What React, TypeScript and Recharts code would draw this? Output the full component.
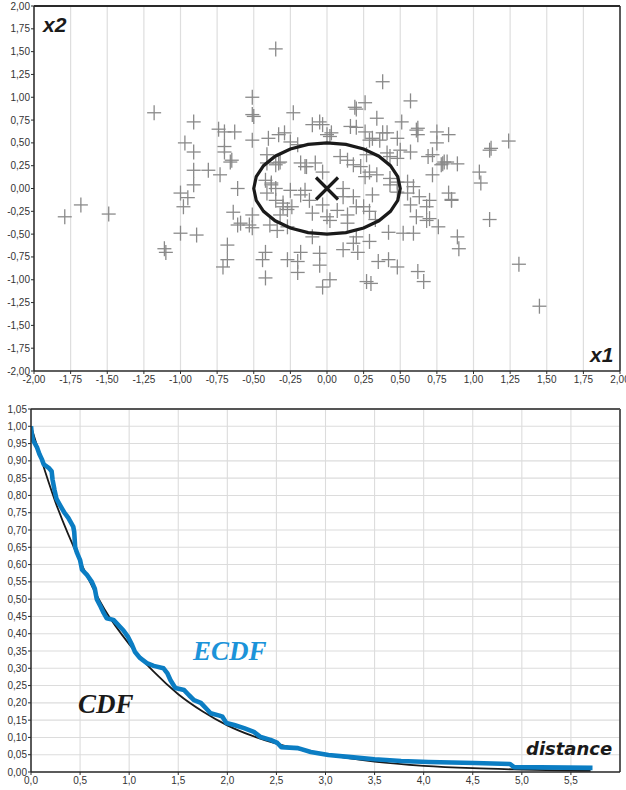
import { ScatterChart, Scatter, LineChart, Line, XAxis, YAxis, CartesianGrid, ReferenceLine } from 'recharts';

// tick values
const X1_TICKS = [-2, -1.75, -1.5, -1.25, -1, -0.75, -0.5, -0.25, 0, 0.25, 0.5, 0.75, 1, 1.25, 1.5, 1.75, 2];
const X2_TICKS = [-2, -1.75, -1.5, -1.25, -1, -0.75, -0.5, -0.25, 0, 0.25, 0.5, 0.75, 1, 1.25, 1.5, 1.75, 2];
const DIST_TICKS = [0, 0.5, 1, 1.5, 2, 2.5, 3, 3.5, 4, 4.5, 5, 5.5];
const PROB_TICKS = [0, 0.05, 0.1, 0.15, 0.2, 0.25, 0.3, 0.35, 0.4, 0.45, 0.5, 0.55, 0.6, 0.65, 0.7, 0.75, 0.8, 0.85, 0.9, 0.95, 1, 1.05];

// sample (x1, x2)
const SAMPLE: [number, number][] = [
  [-1.79, -0.31], [-1.68, -0.18], [-1.49, -0.28], [-1.18, 0.83], [-1.11, -0.66], [-1.1, -0.7], [-1.0, -0.49], [-0.89, -0.51], [-0.98, -0.2],
  [-0.35, 1.53], [0.38, 1.17], [0.57, 0.96], [1.45, -1.29], [1.31, -0.83], [1.11, -0.34], [1.24, 0.52], [1.11, 0.42], [1.12, 0.44],
  [1.04, 0.18], [1.05, 0.06], [0.89, -0.53], [0.9, -0.66], [0.62, -0.91], [0.66, -1.02], [0.76, -0.42], [0.68, -0.35], [0.59, -0.49],
  [0.52, -0.49], [0.85, -0.13], [0.83, 0.59], [0.79, 0.27], [0.89, 0.27], [0.83, -0.05], [0.85, -0.12], [0.8, 0.29],
  [-0.51, 1.0], [-0.51, 0.81], [-0.5, 0.79], [-0.23, 0.83], [-0.91, 0.73], [-0.74, 0.65], [-0.7, 0.62], [-0.63, 0.62], [-0.97, 0.5],
  [-0.91, 0.4], [-0.7, 0.4], [-0.65, 0.31], [-0.51, 0.53], [-0.4, 0.55], [-0.33, 0.59], [-0.29, 0.61], [-0.25, 0.51], [-0.41, 0.37],
  [-0.35, 0.26], [-0.32, 0.29], [-0.91, 0.2], [-0.81, 0.2], [-0.73, 0.15], [-0.91, 0.04], [-1.0, -0.05], [-0.95, -0.1], [-0.61, 0.0],
  [-0.42, 0.09], [-0.38, 0.04], [-0.35, 0.0], [-0.41, -0.05], [-0.35, -0.13], [-0.3, -0.2], [-0.27, -0.23], [-0.32, -0.29], [-0.51, -0.29],
  [-0.64, -0.26], [-0.61, -0.4], [-0.53, -0.4], [-0.51, -0.43], [-0.39, -0.4], [-0.34, -0.46], [-0.27, -0.42], [-0.68, -0.62], [-0.68, -0.78],
  [-0.71, -0.86], [-0.42, -0.7], [-0.44, -0.78], [-0.42, -0.98], [-0.27, -0.78], [-0.2, -0.8], [-0.2, -0.92], [-0.7, 0.46], [-0.66, 0.29],
  [-0.59, -0.38],
  [0.2, 0.87], [0.26, 0.94], [0.34, 0.77], [0.51, 0.73], [-0.05, 0.73], [0.16, 0.68], [0.26, 0.62], [0.38, 0.61], [0.61, 0.64],
  [0.62, 0.59], [0.75, 0.62], [0.0, 0.59], [0.02, 0.57], [0.29, 0.53], [0.36, 0.53], [0.48, 0.55], [0.75, 0.5], [-0.2, 0.48],
  [0.09, 0.35], [0.14, 0.31], [0.18, 0.26], [0.27, 0.37], [0.43, 0.35], [0.48, 0.33], [0.69, 0.35], [0.78, 0.26], [0.72, 0.15],
  [-0.15, 0.24], [-0.03, 0.18], [0.26, 0.13], [0.34, 0.15], [0.43, 0.04], [0.55, 0.07], [0.59, 0.02], [0.55, -0.05], [0.63, -0.09],
  [0.7, -0.13], [0.68, -0.2], [0.57, -0.18], [-0.15, -0.02], [0.11, 0.0], [0.18, -0.09], [0.31, -0.07], [0.2, -0.2], [0.29, -0.25],
  [0.14, -0.29], [-0.1, -0.27], [-0.03, -0.18], [-0.24, -0.2], [0.0, -0.31], [0.14, -0.38], [0.33, -0.34], [0.61, -0.31], [0.7, -0.33],
  [0.42, -0.48], [0.2, -0.53], [0.18, -0.6], [0.29, -0.58], [-0.1, -0.53], [0.11, -0.67], [0.21, -0.7], [-0.18, -0.7], [-0.05, -0.71],
  [-0.05, -0.84], [0.35, -0.8], [0.42, -0.78], [0.48, -0.86], [0.02, -1.0], [-0.03, -1.08], [0.27, -1.02], [0.3, -1.04],
  [-0.41, 0.28], [-0.33, 0.28], [-0.18, 0.28], [-0.14, 0.24], [-0.08, 0.28], [0.23, 0.24], [0.29, 0.18], [0.43, 0.11], [0.48, 0.07],
  [-0.38, 0.06], [-0.25, -0.02], [-0.18, -0.07], [-0.12, -0.13], [-0.3, -0.16], [0.11, -0.09], [0.25, -0.2], [0.48, -0.04], [0.07, -0.24],
  [0.02, -0.35], [-0.1, 0.7], [-0.03, 0.7], [0.03, 0.61], [0.19, 0.89], [0.2, 0.67], [0.31, 0.55], [0.41, 0.61], [0.5, 0.42],
  [0.41, 0.39], [0.57, 0.4], [0.62, 0.66], [0.72, 0.37], [0.82, 0.29],
];

// radius-0.5 ring around the mean
const RING: [number, number][] = [
  [0.5, 0], [0.483, 0.129], [0.433, 0.25], [0.354, 0.354], [0.25, 0.433], [0.129, 0.483],
  [0, 0.5], [-0.129, 0.483], [-0.25, 0.433], [-0.354, 0.354], [-0.433, 0.25], [-0.483, 0.129],
  [-0.5, 0], [-0.483, -0.129], [-0.433, -0.25], [-0.354, -0.354], [-0.25, -0.433], [-0.129, -0.483],
  [0, -0.5], [0.129, -0.483], [0.25, -0.433], [0.354, -0.354], [0.433, -0.25], [0.483, -0.129],
];
const MEAN: [number, number][] = [[0, 0]];

// theoretical curve
const CDF_X = [0, 0.25, 0.5, 0.75, 1, 1.25, 1.5, 1.75, 2, 2.25, 2.5, 2.75, 3, 3.5, 4, 4.5, 5, 5.5, 5.7];
const CDF_Y = [1.0, 0.78, 0.61, 0.47, 0.37, 0.29, 0.225, 0.175, 0.135, 0.105, 0.082, 0.064, 0.05, 0.03, 0.018, 0.011, 0.007, 0.004, 0.003];

// empirical curve
const ECDF_X = [
  0, 0.007, 0.02, 0.06, 0.085, 0.11, 0.13, 0.18, 0.21, 0.22, 0.24, 0.26, 0.3, 0.34, 0.38, 0.43, 0.44, 0.45, 0.47, 0.5,
  0.52, 0.57, 0.62, 0.65, 0.67, 0.71, 0.74, 0.77, 0.84, 0.89, 0.94, 0.99, 1.03, 1.06, 1.11, 1.18, 1.25, 1.35, 1.39, 1.42,
  1.47, 1.56, 1.61, 1.66, 1.73, 1.78, 1.83, 1.92, 1.95, 1.99, 2.07, 2.17, 2.27, 2.34, 2.44, 2.51, 2.55, 2.72, 2.85, 3.03,
  3.26, 3.5, 3.77, 4.05, 4.52, 4.88, 4.92, 5.72,
];
const ECDF_Y = [
  1.0, 0.98, 0.96, 0.94, 0.92, 0.905, 0.89, 0.88, 0.87, 0.845, 0.815, 0.79, 0.77, 0.75, 0.735, 0.71, 0.695, 0.65, 0.633, 0.613,
  0.585, 0.57, 0.55, 0.53, 0.5, 0.478, 0.46, 0.445, 0.44, 0.425, 0.41, 0.39, 0.367, 0.347, 0.33, 0.315, 0.307, 0.3, 0.285, 0.266,
  0.243, 0.237, 0.222, 0.208, 0.2, 0.185, 0.17, 0.163, 0.16, 0.142, 0.136, 0.127, 0.116, 0.101, 0.093, 0.084, 0.072, 0.069, 0.058, 0.049,
  0.043, 0.037, 0.032, 0.029, 0.026, 0.023, 0.014, 0.012,
];

const TICK_FONT = { fontSize: 10, fill: '#333', fontFamily: '"Liberation Sans", Arial, sans-serif' };
const AXIS_LINE = { stroke: '#2a2a2a', strokeWidth: 1.5 };
const comma = (digits: number) => (v: number) => v.toFixed(digits).replace('.', ',');

const PlusMark = (props: any) => {
  const { cx, cy } = props;
  return (
    <g stroke="#8a8a8a" strokeWidth={1.3}>
      <line x1={cx - 7} y1={cy} x2={cx + 7} y2={cy} />
      <line x1={cx} y1={cy - 7.5} x2={cx} y2={cy + 7.5} />
    </g>
  );
};

const CrossMark = (props: any) => {
  const { cx, cy } = props;
  return (
    <g stroke="#1a1a1a" strokeWidth={3.2}>
      <line x1={cx - 11} y1={cy - 11} x2={cx + 11} y2={cy + 11} />
      <line x1={cx - 11} y1={cy + 11} x2={cx + 11} y2={cy - 11} />
    </g>
  );
};

const NoMark = () => <g />;

export default function App() {
  const points = SAMPLE.map(([x, y]) => ({ x, y }));
  const ring = RING.map(([x, y]) => ({ x, y }));
  const mean = MEAN.map(([x, y]) => ({ x, y }));
  const cdf = CDF_X.map((x, i) => ({ x, y: CDF_Y[i] }));
  const ecdf = ECDF_X.map((x, i) => ({ x, y: ECDF_Y[i] }));

  return (
    <div style={{ position: 'absolute', left: 0, top: 0, width: 626, height: 790, background: '#fff' }}>
      <ScatterChart width={626} height={390} margin={{ top: 6, right: 6, left: 0, bottom: 0 }}>
        <CartesianGrid horizontal={false} stroke="#dedede" strokeWidth={1.2} />
        <XAxis type="number" dataKey="x" domain={[-2, 2]} ticks={X1_TICKS} interval={0} height={19}
          tick={TICK_FONT} tickFormatter={comma(2)} tickSize={3} tickMargin={2}
          axisLine={AXIS_LINE} tickLine={{ stroke: '#2a2a2a' }} allowDataOverflow />
        <YAxis type="number" dataKey="y" domain={[-2, 2]} ticks={X2_TICKS} interval={0} width={34}
          tick={TICK_FONT} tickFormatter={comma(2)} tickSize={3} tickMargin={1}
          axisLine={AXIS_LINE} tickLine={{ stroke: '#2a2a2a' }} allowDataOverflow />
        <ReferenceLine x={2} stroke="#2a2a2a" strokeWidth={1.5} />
        <ReferenceLine y={2} stroke="#2a2a2a" strokeWidth={2} />
        <Scatter data={points} shape={PlusMark} isAnimationActive={false} />
        <Scatter data={ring} shape={NoMark} line={{ stroke: '#1a1a1a', strokeWidth: 3.2, fill: 'none' }}
          lineJointType="linearClosed" isAnimationActive={false} />
        <Scatter data={mean} shape={CrossMark} isAnimationActive={false} />
      </ScatterChart>

      <LineChart width={626} height={400} margin={{ top: 19, right: 6, left: 0, bottom: 0 }}>
        <CartesianGrid stroke="#dcdcdc" strokeWidth={1.1} />
        <XAxis type="number" dataKey="x" domain={[0, 6]} ticks={DIST_TICKS} interval={0} height={18}
          tick={TICK_FONT} tickFormatter={comma(1)} tickSize={3} tickMargin={2}
          axisLine={AXIS_LINE} tickLine={{ stroke: '#2a2a2a' }} allowDataOverflow />
        <YAxis type="number" dataKey="y" domain={[0, 1.05]} ticks={PROB_TICKS} interval={0} width={31}
          tick={TICK_FONT} tickFormatter={comma(2)} tickSize={3} tickMargin={1}
          axisLine={AXIS_LINE} tickLine={{ stroke: '#2a2a2a' }} allowDataOverflow />
        <ReferenceLine x={6} stroke="#2a2a2a" strokeWidth={1.5} />
        <ReferenceLine y={1.05} stroke="#555" strokeWidth={1.8} />
        <Line data={cdf} dataKey="y" type="monotone" stroke="#1a1a1a" strokeWidth={1.8} dot={false} isAnimationActive={false} />
        <Line data={ecdf} dataKey="y" type="linear" stroke="#0b7dc3" strokeWidth={4.6} strokeLinejoin="round" dot={false} isAnimationActive={false} />
      </LineChart>

      <svg width={626} height={790} style={{ position: 'absolute', left: 0, top: 0, pointerEvents: 'none' }}>
        <g fontFamily='"Liberation Sans", Arial, sans-serif' fontWeight="bold" fontStyle="italic" fontSize={21} fill="#1a1a1a">
          <text x={43} y={32}>x2</text>
          <text x={590} y={362}>x1</text>
        </g>
        <g fontFamily='"Liberation Serif", "Times New Roman", serif' fontWeight="bold" fontStyle="italic" fontSize={27}>
          <text x={193} y={660} fill="#1b93d9">ECDF</text>
          <text x={78} y={713} fill="#1a1a1a">CDF</text>
        </g>
        <text x={526} y={755} fontFamily='"DejaVu Sans", sans-serif' fontWeight="bold" fontStyle="italic" fontSize={18} fill="#1a1a1a">distance</text>
      </svg>
    </div>
  );
}
